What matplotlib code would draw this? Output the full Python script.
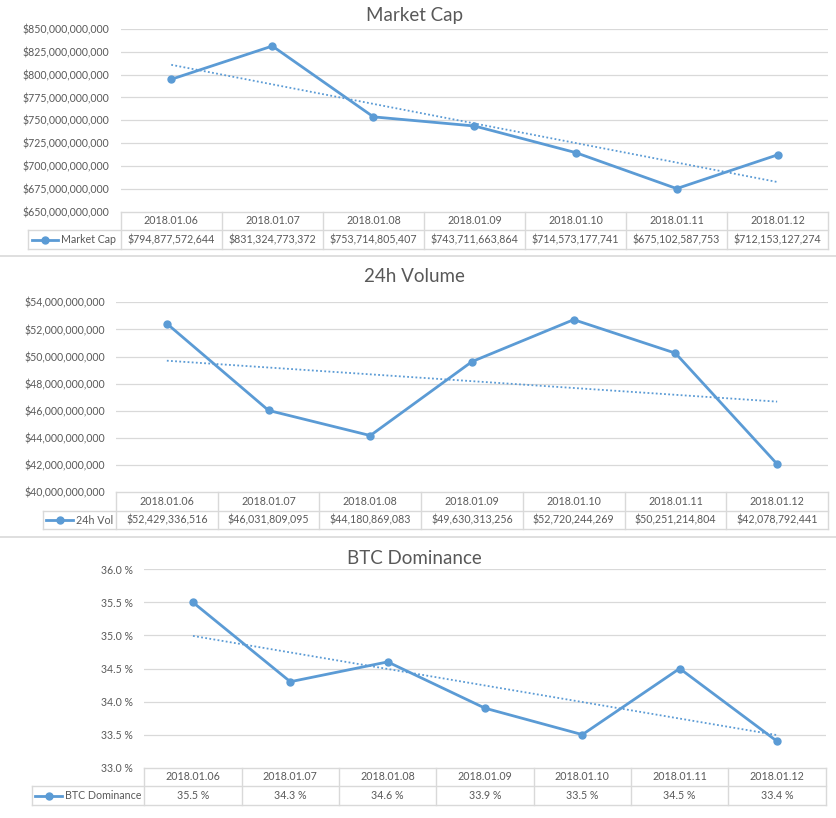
import numpy as np
import matplotlib; matplotlib.use("Agg")
import matplotlib.pyplot as plt
from matplotlib.lines import Line2D

plt.rcParams['font.family'] = ['Lato', 'DejaVu Sans']
W, H = 836, 818
BLUE = "#5B9BD5"; GRID = "#D9D9D9"; TXT = "#595959"

dates = ["2018.01.06", "2018.01.07", "2018.01.08", "2018.01.09", "2018.01.10", "2018.01.11", "2018.01.12"]
market_cap = [794877572644, 831324773372, 753714805407, 743711663864, 714573177741, 675102587753, 712153127274]
volume_24h = [52429336516, 46031809095, 44180869083, 49630313256, 52720244269, 50251214804, 42078792441]
btc_dom = [35.5, 34.3, 34.6, 33.9, 33.5, 34.5, 33.4]

mc_ticks = np.arange(650e9, 850e9 + 1, 25e9)
vol_ticks = np.arange(40e9, 54e9 + 1, 2e9)
dom_ticks = np.arange(33.0, 36.01, 0.5)

money = lambda v: f"${v:,.0f}"
pct = lambda v: f"{v:.1f} %"

fig = plt.figure(figsize=(W / 100, H / 100), dpi=100)
ov = fig.add_axes([0, 0, 1, 1]); ov.set_xlim(0, W); ov.set_ylim(H, 0); ov.axis("off")

def chart(title, name, vals, ticks, fmt, left, right, top, bot, r1, r2, leg_left, title_y):
    ax = fig.add_axes([left / W, 1 - bot / H, (right - left) / W, (bot - top) / H])
    ax.patch.set_alpha(0)
    x = np.arange(len(vals))
    ax.set_xlim(-0.5, len(vals) - 0.5); ax.set_ylim(ticks[0], ticks[-1])
    ax.set_yticks(ticks); ax.set_yticklabels([fmt(t) for t in ticks])
    ax.set_xticks([])
    ax.tick_params(axis="y", length=0, pad=8, labelsize=7.6, labelcolor=TXT)
    for s in ax.spines.values(): s.set_visible(False)
    for t in ticks[1:]:
        ax.axhline(t, color=GRID, lw=0.9, zorder=0)
    ax.plot(x, vals, color=BLUE, lw=2, marker="o", ms=5, zorder=3, clip_on=False)
    k, b = np.polyfit(x, vals, 1)   # linear trendline, as in the source chart
    ax.plot(x, k * x + b, color=BLUE, lw=1.3, ls=(0, (1, 1.3)), zorder=2)
    ov.text(W / 2 - 4, title_y, title, ha="center", va="center", fontsize=13.5, color=TXT)
    # data table under the plot
    n = len(vals); cw = (right - left) / n
    ov.plot([left, right], [bot, bot], color=GRID, lw=1)
    ov.plot([leg_left, right], [r1, r1], color=GRID, lw=1)
    ov.plot([leg_left, right], [r2, r2], color=GRID, lw=1)
    ov.plot([leg_left, leg_left], [r1, r2], color=GRID, lw=1)
    for i in range(n + 1):
        ov.plot([left + i * cw] * 2, [bot, r2], color=GRID, lw=1)
    for i in range(n):
        cx = left + (i + 0.5) * cw
        ov.text(cx, (bot + r1) / 2, dates[i], ha="center", va="center", fontsize=7.7, color=TXT)
        ov.text(cx, (r1 + r2) / 2, fmt(vals[i]), ha="center", va="center", fontsize=7.7, color=TXT)
    ym = (r1 + r2) / 2
    ov.add_line(Line2D([leg_left + 3.5, leg_left + 30], [ym, ym], color=BLUE, lw=2))
    ov.plot([leg_left + 17], [ym], "o", color=BLUE, ms=5)
    ov.text(leg_left + 33, ym, name, ha="left", va="center", fontsize=7.7, color=TXT)

chart("Market Cap", "Market Cap", market_cap, mc_ticks, money, 120.7, 828.3, 29, 211.5, 230.3, 249.3, 28, 16)
chart("24h Volume", "24h Vol", volume_24h, vol_ticks, money, 116, 828, 302.3, 492.3, 510.7, 529.3, 42.7, 277)
chart("BTC Dominance", "BTC Dominance", btc_dom, dom_ticks, pct, 144.3, 825.7, 569.3, 767.7, 786, 805, 31.7, 559)

for y in (255.7, 537.3):
    ov.plot([0, W], [y, y], color=GRID, lw=1.2)

fig.savefig("out.png", dpi=100)
